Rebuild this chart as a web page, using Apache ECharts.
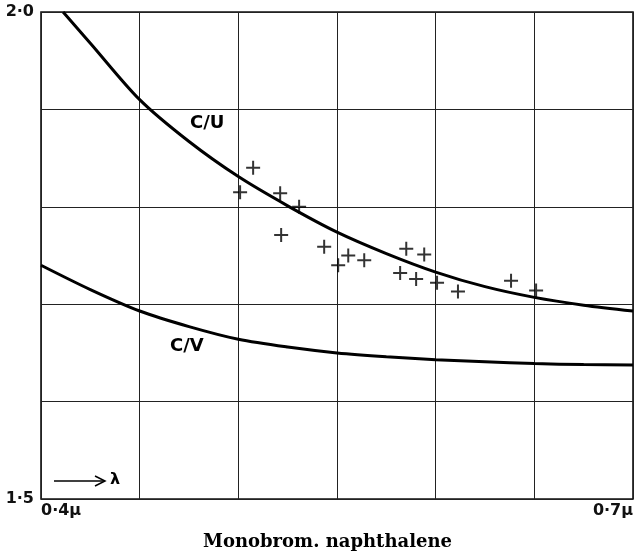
<!DOCTYPE html>
<html>
<head>
<meta charset="utf-8">
<script src="https://cdn.jsdelivr.net/npm/echarts@6/dist/echarts.min.js"></script>
<style>
  html, body { margin: 0; padding: 0; background: #fff; }
  #chart { width: 637px; height: 558px; }
</style>
</head>
<body>
<div id="chart"></div>
<script>
// wavelength (micron) vs ratio
const cuCurve = [
    [0.4112, 2.0], [0.425, 1.968], [0.45, 1.910], [0.475, 1.867],
    [0.5, 1.831], [0.525, 1.801], [0.55, 1.774], [0.575, 1.752],
    [0.6, 1.733], [0.625, 1.718], [0.65, 1.707], [0.675, 1.699],
    [0.7, 1.693],
];
const cvCurve = [
    [0.4, 1.740], [0.425, 1.715], [0.45, 1.693], [0.475, 1.677],
    [0.5, 1.664], [0.525, 1.656], [0.55, 1.650], [0.575, 1.646],
    [0.6, 1.643], [0.625, 1.641], [0.65, 1.639], [0.675, 1.638],
    [0.7, 1.6376],
];
const observed = [
    [0.5009, 1.815], [0.5075, 1.840], [0.5212, 1.814], [0.5308, 1.800],
    [0.5217, 1.771], [0.5435, 1.759], [0.5506, 1.740], [0.5557, 1.750],
    [0.5638, 1.745], [0.5851, 1.757], [0.5942, 1.751], [0.5820, 1.732],
    [0.5901, 1.726], [0.6007, 1.722], [0.6113, 1.713], [0.6382, 1.724],
    [0.6509, 1.714],
];
const xTickLabels = { '0.4': '0·4μ', '0.7': '0·7μ' };
const yTickLabels = { '1.5': '1·5', '2': '2·0' };

const chart = echarts.init(document.getElementById('chart'));

const crossSymbol = 'path://M6,0 H8 V6 H14 V8 H8 V14 H6 V8 H0 V6 H6 Z';
const pickLabel = (table, v) => table[String(Math.round(v * 100) / 100)] || '';

chart.setOption({
    animation: false,
    grid: {
        left: 41,
        right: 4,
        top: 12,
        bottom: 59,
        show: true,
        borderColor: '#111',
        borderWidth: 1.6,
    },
    xAxis: {
        type: 'value',
        min: 0.4,
        max: 0.7,
        interval: 0.05,
        axisLine: { show: false },
        axisTick: { show: false },
        splitLine: { show: true, lineStyle: { color: '#222', width: 1 } },
        axisLabel: {
            margin: 4,
            alignMinLabel: 'left',
            alignMaxLabel: 'right',
            fontFamily: 'DejaVu Sans',
            fontWeight: 'bold',
            fontSize: 16,
            color: '#111',
            formatter: (v) => pickLabel(xTickLabels, v),
        },
    },
    yAxis: {
        type: 'value',
        min: 1.5,
        max: 2.0,
        interval: 0.1,
        axisLine: { show: false },
        axisTick: { show: false },
        splitLine: { show: true, lineStyle: { color: '#222', width: 1 } },
        axisLabel: {
            margin: 7,
            fontFamily: 'DejaVu Sans',
            fontWeight: 'bold',
            fontSize: 16,
            color: '#111',
            formatter: (v) => pickLabel(yTickLabels, v),
        },
    },
    series: [
        {
            name: 'C/U',
            type: 'line',
            data: cuCurve,
            smooth: 0.3,
            showSymbol: false,
            lineStyle: { color: '#000', width: 3 },
        },
        {
            name: 'C/V',
            type: 'line',
            data: cvCurve,
            smooth: 0.3,
            showSymbol: false,
            lineStyle: { color: '#000', width: 3 },
        },
        {
            name: 'observed',
            type: 'scatter',
            data: observed,
            symbol: crossSymbol,
            symbolSize: 14,
            itemStyle: { color: '#000' },
            z: 5,
        },
    ],
    graphic: [
        {
            type: 'text',
            left: 190,
            top: 114,
            style: { text: 'C/U', font: 'bold 18px "DejaVu Sans"', fill: '#000' },
        },
        {
            type: 'text',
            left: 170,
            top: 337,
            style: { text: 'C/V', font: 'bold 18px "DejaVu Sans"', fill: '#000' },
        },
        {
            type: 'line',
            shape: { x1: 54, y1: 481, x2: 104, y2: 481 },
            style: { stroke: '#000', lineWidth: 1.5 },
        },
        {
            type: 'polyline',
            shape: { points: [[95, 476], [105, 481], [95, 486]] },
            style: { stroke: '#000', lineWidth: 1.5, fill: null },
        },
        {
            type: 'text',
            left: 110,
            top: 472,
            style: { text: 'λ', font: 'bold 16px "DejaVu Sans"', fill: '#000' },
        },
        {
            type: 'text',
            left: 203,
            top: 533,
            style: { text: 'Monobrom. naphthalene', font: 'bold 18px "DejaVu Serif"', fill: '#000' },
        },
    ],
});
</script>
</body>
</html>
